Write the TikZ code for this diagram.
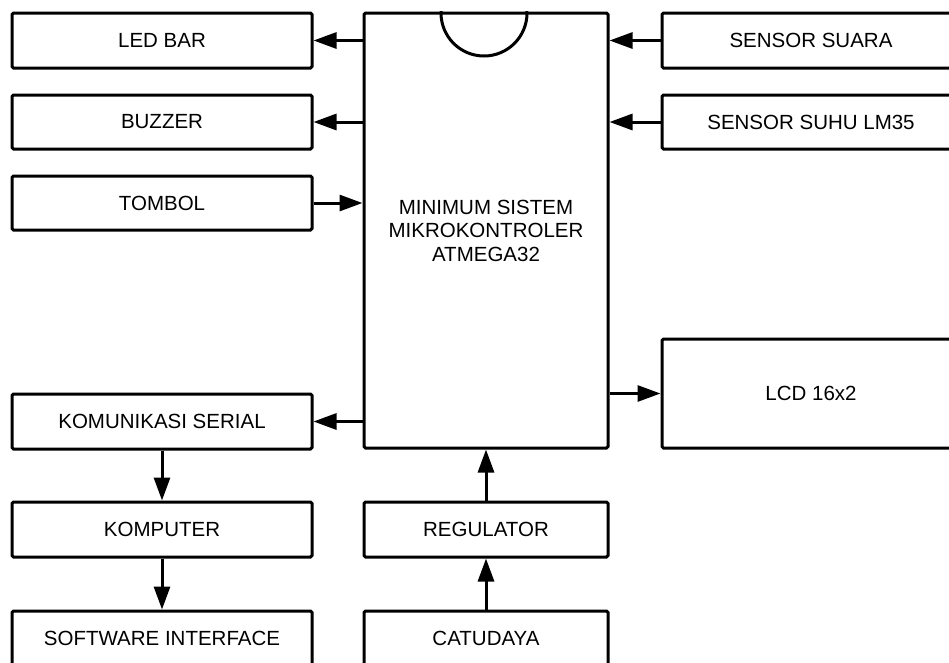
\documentclass[tikz,border=0pt]{standalone}
\usepackage{fontspec}
\setmainfont{Liberation Sans}
\usetikzlibrary{arrows.meta}
\begin{document}
\begin{tikzpicture}[x=1pt,y=-1pt,
  blok/.style={draw, line width=3pt, rounded corners=1.5pt, rectangle, inner sep=0pt, align=center,
    font=\fontsize{20.5}{23.5}\selectfont},
  arr/.style={line width=3pt, -{Triangle[length=23pt,width=16pt]}}]
\useasboundingbox (0,0) rectangle (949,662);
% left column
\node[blok, minimum width=300pt, minimum height=55pt] (ledbar) at (162,40.5) {LED BAR};
\node[blok, minimum width=300pt, minimum height=54pt] (buzzer) at (162,122) {BUZZER};
\node[blok, minimum width=300pt, minimum height=54pt] (tombol) at (162,203) {TOMBOL};
\node[blok, minimum width=300pt, minimum height=55pt] (serial) at (162,421.5) {KOMUNIKASI SERIAL};
\node[blok, minimum width=300pt, minimum height=55pt] (komputer) at (162,529.5) {KOMPUTER};
\node[blok, minimum width=300pt, minimum height=55pt] (software) at (162,638.5) {SOFTWARE INTERFACE};
% middle column
\node[blok, minimum width=244pt, minimum height=435pt] (main) at (486,230.5) {MINIMUM SISTEM\\MIKROKONTROLER\\ATMEGA32};
\node[blok, minimum width=244pt, minimum height=55pt] (regulator) at (486,529.5) {REGULATOR};
\node[blok, minimum width=244pt, minimum height=55pt] (catudaya) at (486,638.5) {CATUDAYA};
% right column
\node[blok, minimum width=298pt, minimum height=55pt] (suara) at (811,40.5) {SENSOR SUARA};
\node[blok, minimum width=298pt, minimum height=54pt] (suhu) at (811,122) {SENSOR SUHU LM35};
\node[blok, minimum width=298pt, minimum height=109pt] (lcd) at (811,393.5) {LCD 16x2};
% notch
\coordinate (notch) at (484,13);
\begin{scope}
  \clip (main.north west) rectangle (main.south east);
  \draw[line width=3pt] (notch) circle (43pt);
\end{scope}
% connectors
\draw[arr] (ledbar.east -| main.west) -- (ledbar.east);
\draw[arr] (buzzer.east -| main.west) -- (buzzer.east);
\draw[arr] (tombol.east) -- (tombol.east -| main.west);
\draw[arr] (serial.east -| main.west) -- (serial.east);
\draw[arr] (suara.west) -- (suara.west -| main.east);
\draw[arr] (suhu.west) -- (suhu.west -| main.east);
\draw[arr] (lcd.west -| main.east) -- (lcd.west);
\draw[arr] (serial.south) -- (komputer.north);
\draw[arr] (komputer.south) -- (software.north);
\draw[arr] (regulator.north) -- (main.south);
\draw[arr] (catudaya.north) -- (regulator.south);
\end{tikzpicture}
\end{document}
